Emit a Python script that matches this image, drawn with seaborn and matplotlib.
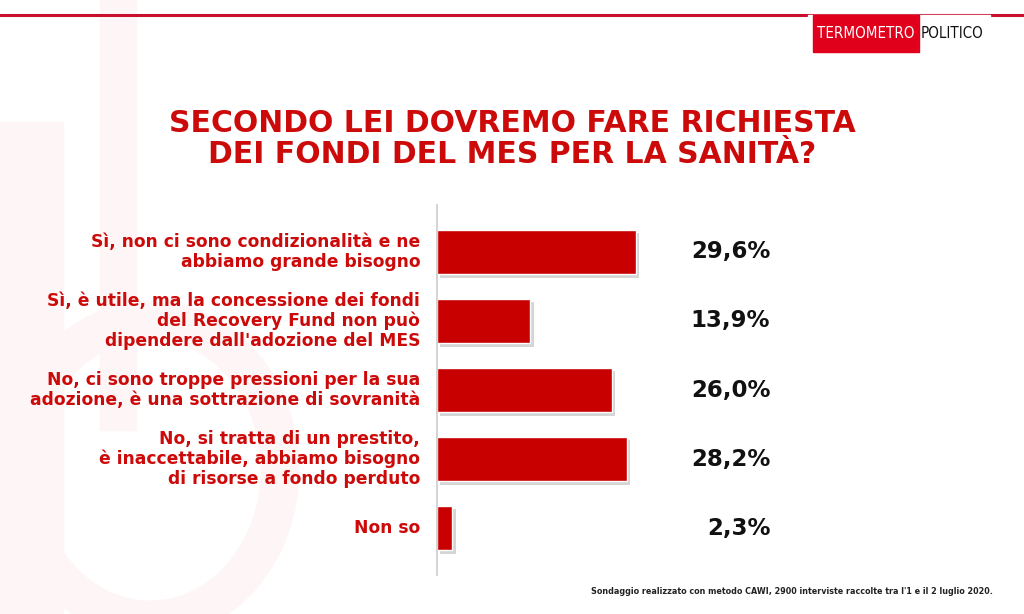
import matplotlib
matplotlib.use("Agg")
import matplotlib.pyplot as plt
import matplotlib.patheffects as pe
from matplotlib.patches import Rectangle, Ellipse
import seaborn as sns
import pandas as pd

categories = [
    "Sì, non ci sono condizionalità e ne\nabbiamo grande bisogno",
    "Sì, è utile, ma la concessione dei fondi\ndel Recovery Fund non può\ndipendere dall'adozione del MES",
    "No, ci sono troppe pressioni per la sua\nadozione, è una sottrazione di sovranità",
    "No, si tratta di un prestito,\nè inaccettabile, abbiamo bisogno\ndi risorse a fondo perduto",
    "Non so",
]
values = [29.6, 13.9, 26.0, 28.2, 2.3]
value_labels = ["29,6%", "13,9%", "26,0%", "28,2%", "2,3%"]
title = "SECONDO LEI DOVREMO FARE RICHIESTA\nDEI FONDI DEL MES PER LA SANITÀ?"
footnote = "Sondaggio realizzato con metodo CAWI, 2900 interviste raccolte tra l'1 e il 2 luglio 2020."

RED = "#c80000"
TRED = "#cc0a0a"

sns.set_theme(style="white")
plt.rcParams['font.family'] = ['DejaVu Sans']

W, H = 1024, 614
fig = plt.figure(figsize=(W / 100, H / 100), dpi=100)
fig.patch.set_facecolor("white")

# faint watermark shapes
wm = "#fef6f6"
fig.patches.append(Rectangle((100 / W, 1 - 430 / H), 36 / W, 430 / H, transform=fig.transFigure, color=wm, zorder=-5))
fig.patches.append(Rectangle((0, 0), 63 / W, 1 - 122 / H, transform=fig.transFigure, color=wm, zorder=-5))
fig.patches.append(Ellipse((150 / W, 1 - 470 / H), 260 / W, 300 / H, transform=fig.transFigure,
                           fill=False, lw=28, ec=wm, zorder=-5))

# top red line and logo
fig.add_artist(plt.Line2D([0, 1], [1 - 15 / H, 1 - 15 / H], color="#c8102e", lw=2.2, transform=fig.transFigure, zorder=1))
fig.patches.append(Rectangle((808 / W, 1 - 52 / H), 182 / W, 37 / H, transform=fig.transFigure, color="white", zorder=2))
fig.patches.append(Rectangle((813 / W, 1 - 52 / H), 106 / W, 37 / H, transform=fig.transFigure, color="#e0001b", zorder=3))
fig.text(866 / W, 1 - 34 / H, "TERMOMETRO", ha="center", va="center", color="white", fontsize=10.8,
         family=["DejaVu Sans"], fontstretch="condensed", zorder=4)
fig.text(952 / W, 1 - 34 / H, "POLITICO", ha="center", va="center", color="#111111", fontsize=10.8,
         family=["DejaVu Sans"], fontstretch="condensed", zorder=4)

# title
fig.text(512 / W, 1 - 139 / H, title, ha="center", va="center", color=TRED, fontsize=21.5,
         fontweight="bold", linespacing=1.12)

ax = fig.add_axes([437 / W, 39 / H, 336 / W, 370 / H])
ax.set_facecolor("none")
df = pd.DataFrame({"cat": categories, "val": values})
sns.barplot(data=df, x="val", y="cat", orient="h", color=RED, width=0.64, ax=ax, saturation=1)
for p in ax.patches:
    p.set_path_effects([pe.SimplePatchShadow(offset=(2.5, -2.5), shadow_rgbFace="#888888", alpha=0.35), pe.Normal()])

ax.set_xlim(0, 50)
ax.set_ylim(4.68, -0.68)
ax.set_xlabel("")
ax.set_ylabel("")
ax.set_xticks([])
ax.set_yticks([])
for s in ["top", "right", "bottom"]:
    ax.spines[s].set_visible(False)
ax.spines["left"].set_color("#cccccc")
ax.spines["left"].set_linewidth(1.2)

for i, (cat, lab) in enumerate(zip(categories, value_labels)):
    ax.text(-0.05, i, cat, transform=ax.get_yaxis_transform(), ha="right", va="center",
            color=TRED, fontsize=12.3, fontweight="bold", linespacing=1.12)
    ax.text(49.6, i, lab, ha="right", va="center", color="#111111", fontsize=16.5, fontweight="bold")

fig.text(993 / W, 1 - 591 / H, footnote, ha="right", va="center", color="#222222", fontsize=5.8, fontweight="bold")

fig.savefig("out.png", dpi=100)
